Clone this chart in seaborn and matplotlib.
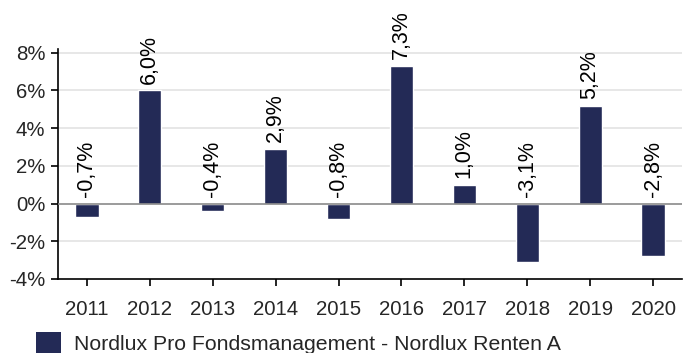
import matplotlib
matplotlib.use("Agg")
import matplotlib.pyplot as plt
from matplotlib.patches import Patch
import seaborn as sns
import pandas as pd

years = ["2011", "2012", "2013", "2014", "2015", "2016", "2017", "2018", "2019", "2020"]
returns = [-0.7, 6.0, -0.4, 2.9, -0.8, 7.3, 1.0, -3.1, 5.2, -2.8]
yticks = [-4, -2, 0, 2, 4, 6, 8]
series_name = "Nordlux Pro Fondsmanagement - Nordlux Renten A"
bar_color = "#232a56"

sns.set_theme(style="white")
plt.rcParams["font.family"] = ["Liberation Sans", "DejaVu Sans"]

df = pd.DataFrame({"year": years, "ret": returns})

fig = plt.figure(figsize=(6.83, 3.53), dpi=100)
ax = fig.add_axes([58 / 683, 1 - 279 / 353, 624 / 683, 230 / 353])

sns.barplot(data=df, x="year", y="ret", color=bar_color, width=0.37,
            saturation=1, ax=ax, zorder=3)

ax.set_xlim(-0.46, 9.46)
ax.set_ylim(-4, 8.2)
ax.set_yticks(yticks)
ax.set_yticklabels([f"{t}%" for t in yticks])
ax.set_xlabel("")
ax.set_ylabel("")

for t in yticks:
    if t not in (0, -4):
        ax.axhline(t, color="#e3e3e3", lw=1.2, zorder=1)
ax.axhline(0, color="#8a8a8a", lw=1.2, zorder=4)

for spine in ("top", "right"):
    ax.spines[spine].set_visible(False)
for spine in ("left", "bottom"):
    ax.spines[spine].set_color("black")
    ax.spines[spine].set_linewidth(1.2)

ax.tick_params(axis="both", which="both", direction="out", length=5, width=1.2,
               color="black", labelsize=14.7, pad=4, left=True, bottom=True)
ax.tick_params(axis="x", pad=10)

for i, v in enumerate(returns):
    base = max(v, 0)
    label = f"{v:.1f}%".replace(".", ",")
    ax.annotate(label, xy=(i, base), xytext=(0, 5), textcoords="offset points",
                rotation=90, ha="center", va="bottom", fontsize=15.5, color="black")

fig.legend(handles=[Patch(facecolor=bar_color, edgecolor="none", label=series_name)],
           loc="upper left", bbox_to_anchor=(27 / 683, 1 - 323 / 353),
           frameon=False, fontsize=15.3, handlelength=1.2, handleheight=1.3,
           handletextpad=0.6, borderaxespad=0)

fig.savefig("out.png", dpi=100)
